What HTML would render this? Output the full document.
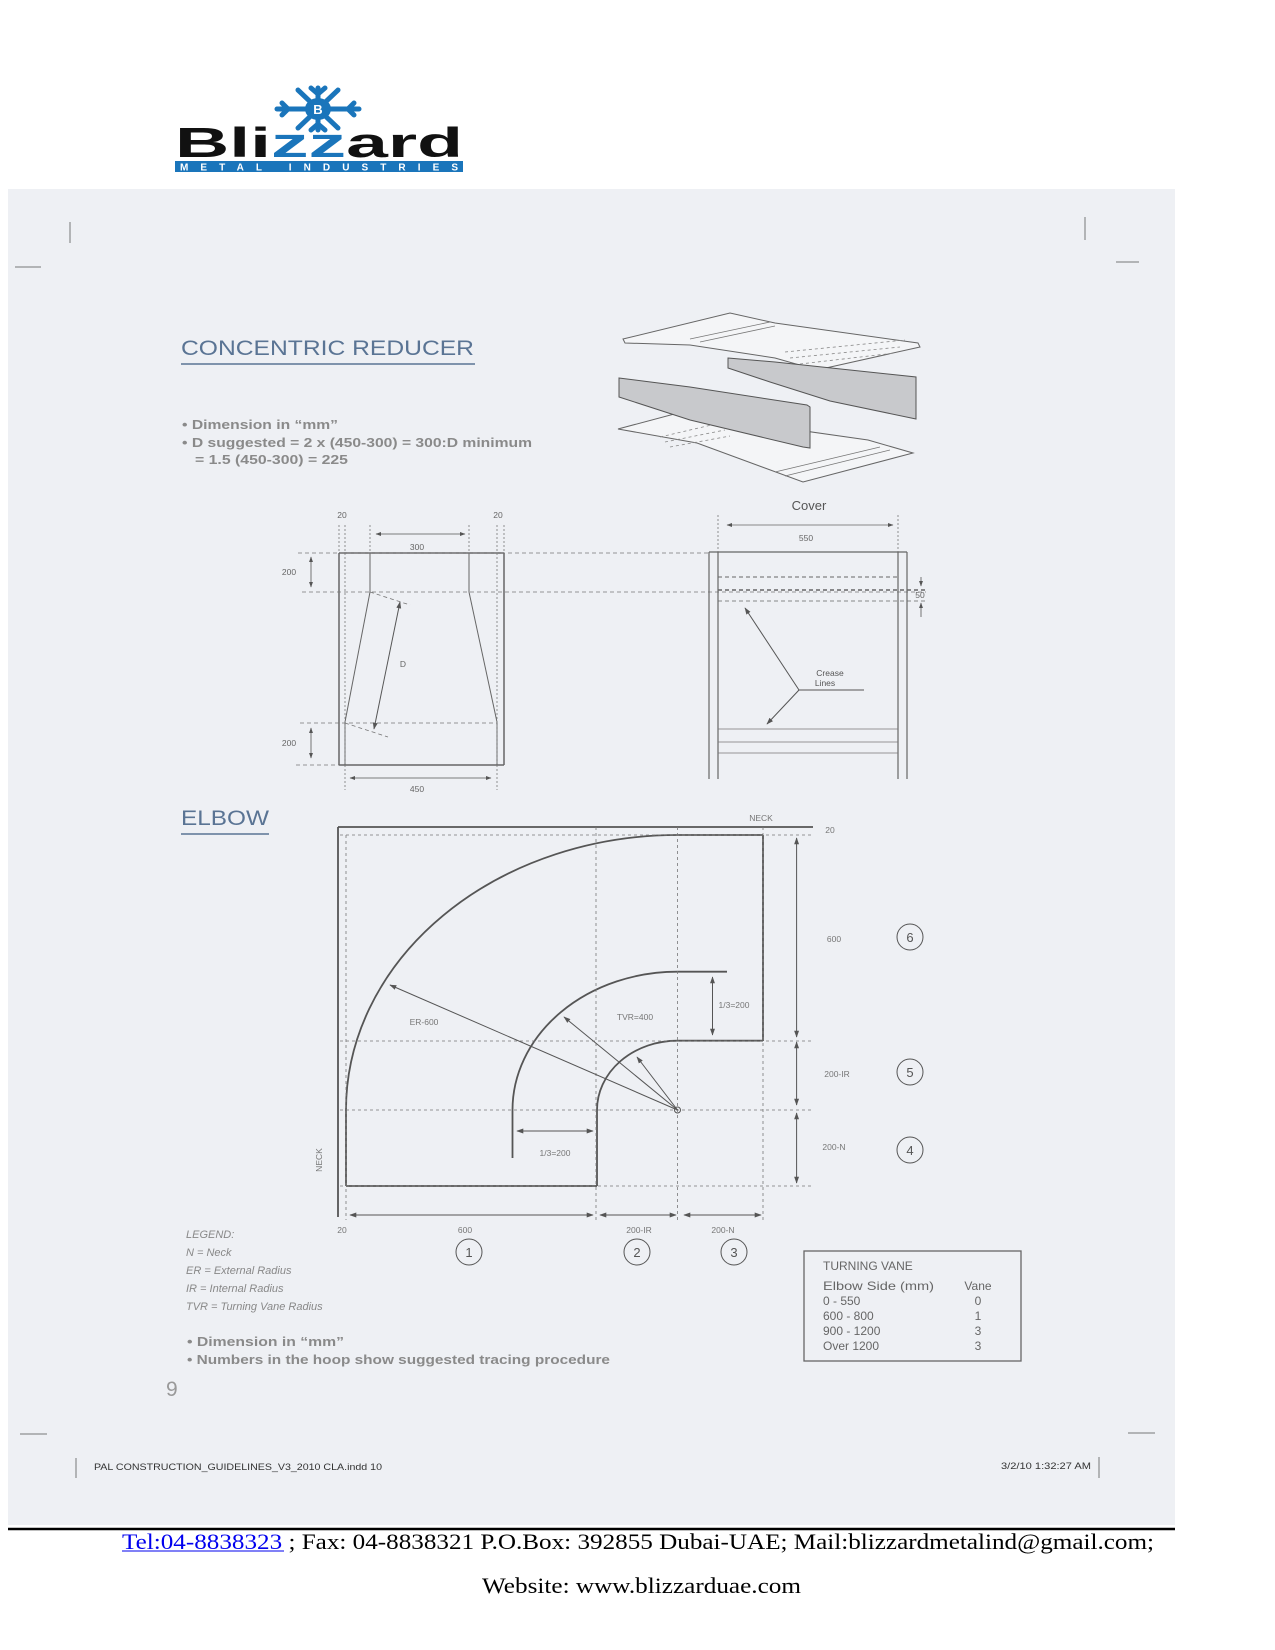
<!DOCTYPE html>
<html><head><meta charset="utf-8"><style>
html,body{margin:0;padding:0;background:#fff;}
svg{display:block;}
.s{font-family:"Liberation Sans",sans-serif;}
.f{font-family:"Liberation Serif",serif;}
</style></head><body>
<svg width="1275" height="1650" viewBox="0 0 1275 1650" xmlns="http://www.w3.org/2000/svg" class="s" font-family="Liberation Sans, sans-serif">
<defs>
<marker id="a" viewBox="0 0 10 10" refX="9" refY="5" markerWidth="7" markerHeight="7" orient="auto-start-reverse"><path d="M0,1.5 L10,5 L0,8.5 z" fill="#555"/></marker>
</defs>
<rect x="8" y="189" width="1167" height="1336" fill="#eef0f4"/>
<line x1="8" y1="1529" x2="1175" y2="1529" stroke="#000" stroke-width="2.5"/>

<!-- logo -->
<g stroke="#1a75bb" stroke-width="5" stroke-linecap="round" fill="none">
 <line x1="277" y1="109" x2="359" y2="109"/>
 <line x1="298" y1="90" x2="338" y2="128"/>
 <line x1="338" y1="90" x2="298" y2="128"/>
 <line x1="318" y1="88" x2="318" y2="130"/>
 <path d="M282,103 L288,109 L282,115 M354,103 L348,109 L354,115 M311,88 L318,94 L325,88 M311,130 L318,124 L325,130"/>
</g>
<ellipse cx="318" cy="109" rx="13" ry="11" fill="#1a75bb"/>
<text x="318" y="114" font-size="13" font-weight="bold" fill="#fff" text-anchor="middle">B</text>
<text x="175" y="157" font-size="42" font-weight="bold" fill="#111" textLength="288" lengthAdjust="spacingAndGlyphs">Bli<tspan fill="#1a75bb">zz</tspan>ard</text>
<rect x="175" y="161" width="288" height="11" fill="#1a75bb"/>
<text x="180" y="170.5" font-size="10" font-weight="bold" fill="#fff" textLength="278" lengthAdjust="spacing">METAL  INDUSTRIES</text>

<!-- crop marks -->
<g stroke="#777" stroke-width="1">
<line x1="70" y1="222" x2="70" y2="243"/><line x1="15" y1="267" x2="41" y2="267"/>
<line x1="1085" y1="217" x2="1085" y2="240"/><line x1="1116" y1="262" x2="1139" y2="262"/>
<line x1="20" y1="1434" x2="47" y2="1434"/><line x1="1128" y1="1433" x2="1155" y2="1433"/>
<line x1="76" y1="1458" x2="76" y2="1478"/><line x1="1099" y1="1457" x2="1099" y2="1478"/>
</g>

<text x="181" y="355" font-size="21" fill="#5a7494" textLength="293" lengthAdjust="spacingAndGlyphs">CONCENTRIC REDUCER</text>
<line x1="181" y1="364" x2="475" y2="364" stroke="#5a7494" stroke-width="1.5"/>
<g font-size="12.5" font-weight="bold" fill="#8a8a8a">
<text x="182" y="429" textLength="156" lengthAdjust="spacingAndGlyphs">• Dimension in “mm”</text>
<text x="182" y="447" textLength="350" lengthAdjust="spacingAndGlyphs">• D suggested = 2 x (450-300) = 300:D minimum</text>
<text x="195" y="464" textLength="153" lengthAdjust="spacingAndGlyphs">= 1.5 (450-300) = 225</text>
</g>

<!-- 3D sketch -->
<g stroke="#666" stroke-width="1" fill="#f4f5f7">
<path d="M623,339 L730,313 L775,323 L918,343 L920,347 L817,370 L775,358 L690,345 L625,343 Z"/>
<path d="M618,429 L678,413 L868,440 L913,453 L803,482 L697,443 Z"/>
</g>
<g stroke="#888" stroke-width="0.8" fill="none" stroke-dasharray="3,3">
<path d="M785,352 L905,340 M790,358 L900,347 M800,364 L895,353"/>
<path d="M660,437 L720,423 M665,442 L725,430 M670,447 L730,436"/>
</g>
<g stroke="#777" stroke-width="0.8" fill="none">
<path d="M690,339 L770,322 M700,342 L775,326"/>
<path d="M775,472 L880,447 M785,476 L890,450"/>
</g>
<g stroke="#555" stroke-width="1" fill="#c8c9cc">
<path d="M728,358 L775,362 L916,377 L916,419 L830,401 L770,382 L728,368 Z"/>
<path d="M619,378 L690,387 L807,405 L810,407 L810,448 L803,447 L690,420 L619,397 Z"/>
</g>

<!-- reducer drawing -->
<g stroke="#666" stroke-width="1" fill="none">
<line x1="339" y1="553" x2="504" y2="553" stroke-width="1.5"/>
<line x1="339" y1="553" x2="339" y2="765" stroke-width="1.5"/>
<line x1="504" y1="553" x2="504" y2="765" stroke-width="1.5"/>
<line x1="339" y1="765" x2="504" y2="765" stroke-width="1.5"/>
<line x1="345" y1="722" x2="345" y2="765"/>
<line x1="497" y1="722" x2="497" y2="765"/>
<line x1="370" y1="553" x2="370" y2="592"/>
<line x1="469" y1="553" x2="469" y2="592"/>
<line x1="370" y1="592" x2="345" y2="722"/>
<line x1="469" y1="592" x2="497" y2="722"/>
</g>
<g stroke="#777" stroke-width="0.8" fill="none" stroke-dasharray="4,3">
<line x1="298" y1="553" x2="710" y2="553"/>
<line x1="302" y1="592" x2="926" y2="592"/>
<line x1="300" y1="723" x2="497" y2="723"/>
<line x1="296" y1="765" x2="339" y2="765"/>
<line x1="370" y1="592" x2="410" y2="605"/>
<line x1="345" y1="723" x2="388" y2="737"/>
</g>
<g stroke="#777" stroke-width="0.8" fill="none" stroke-dasharray="2,2">
<line x1="339" y1="525" x2="339" y2="553"/><line x1="345" y1="525" x2="345" y2="790"/>
<line x1="497" y1="525" x2="497" y2="790"/><line x1="504" y1="525" x2="504" y2="553"/>
<line x1="370" y1="525" x2="370" y2="553"/><line x1="469" y1="525" x2="469" y2="553"/>
</g>
<g stroke="#555" stroke-width="0.8" fill="none" marker-start="url(#a)" marker-end="url(#a)">
<line x1="376" y1="534" x2="465" y2="534"/>
<line x1="311" y1="557" x2="311" y2="587"/>
<line x1="311" y1="728" x2="311" y2="758"/>
<line x1="350" y1="778" x2="491" y2="778"/>
</g>
<line x1="374" y1="729" x2="400" y2="602" stroke="#555" stroke-width="1" marker-start="url(#a)" marker-end="url(#a)"/>
<g font-size="8.5" fill="#666" text-anchor="middle">
<text x="342" y="518">20</text><text x="498" y="518">20</text>
<text x="417" y="550">300</text>
<text x="289" y="575">200</text><text x="289" y="746">200</text>
<text x="403" y="667">D</text>
<text x="417" y="792">450</text>
</g>

<!-- cover -->
<text x="809" y="510" font-size="13" fill="#555" text-anchor="middle">Cover</text>
<g stroke="#666" stroke-width="1.2" fill="none">
<line x1="709" y1="552" x2="709" y2="779"/><line x1="718" y1="552" x2="718" y2="779"/>
<line x1="898" y1="552" x2="898" y2="779"/><line x1="907" y1="552" x2="907" y2="779"/>
<line x1="709" y1="552" x2="907" y2="552"/>
</g>
<g stroke="#777" stroke-width="0.8">
<line x1="718" y1="729" x2="898" y2="729"/><line x1="718" y1="742" x2="898" y2="742"/><line x1="718" y1="753" x2="898" y2="753"/>
</g>
<g stroke="#666" stroke-width="1" stroke-dasharray="4,3">
<line x1="718" y1="577" x2="898" y2="577"/>
<line x1="718" y1="590" x2="926" y2="590" stroke-width="1.4"/>
<line x1="718" y1="601" x2="926" y2="601" stroke-width="0.8"/>
</g>
<g stroke="#777" stroke-width="0.8" stroke-dasharray="2,2">
<line x1="718" y1="515" x2="718" y2="552"/><line x1="898" y1="515" x2="898" y2="552"/>
</g>
<line x1="727" y1="525" x2="893" y2="525" stroke="#666" stroke-width="0.8" marker-start="url(#a)" marker-end="url(#a)"/>
<text x="806" y="541" font-size="8.5" fill="#666" text-anchor="middle">550</text>
<line x1="921" y1="577" x2="921" y2="586" stroke="#555" stroke-width="0.8" marker-end="url(#a)"/>
<line x1="921" y1="617" x2="921" y2="603" stroke="#555" stroke-width="0.8" marker-end="url(#a)"/>
<text x="920" y="598" font-size="8.5" fill="#666" text-anchor="middle">50</text>
<g stroke="#555" stroke-width="1" fill="none">
<line x1="799" y1="690" x2="745" y2="608" marker-end="url(#a)"/>
<line x1="799" y1="690" x2="767" y2="724" marker-end="url(#a)"/>
<line x1="799" y1="690" x2="864" y2="690"/>
</g>
<text x="830" y="676" font-size="8.5" fill="#555" text-anchor="middle">Crease</text>
<text x="825" y="686" font-size="8.5" fill="#555" text-anchor="middle">Lines</text>

<!-- ELBOW -->
<text x="181" y="825" font-size="21" fill="#5a7494" textLength="88" lengthAdjust="spacingAndGlyphs">ELBOW</text>
<line x1="181" y1="834" x2="269" y2="834" stroke="#5a7494" stroke-width="1.5"/>

<g stroke="#555" stroke-width="1.8" fill="none">
<line x1="338" y1="827" x2="813" y2="827"/>
<line x1="338" y1="827" x2="338" y2="1217"/>
<line x1="346" y1="1186" x2="597" y2="1186"/>
<line x1="677" y1="835" x2="763" y2="835"/>
<line x1="763" y1="835" x2="763" y2="1041"/>
<path d="M346,1186 L346,1110 A331.5,275 0 0 1 677.5,835"/>
<path d="M512.5,1158 L512.5,1110 A165,138.3 0 0 1 677.5,971.7 L727,971.7"/>
<path d="M597,1186 L597,1110 A80.5,69.3 0 0 1 677.5,1040.7 L763,1040.7"/>
</g>
<g stroke="#777" stroke-width="0.8" fill="none" stroke-dasharray="3,3">
<line x1="340" y1="835" x2="813" y2="835"/>
<line x1="340" y1="1041" x2="813" y2="1041"/>
<line x1="340" y1="1110" x2="813" y2="1110"/>
<line x1="340" y1="1186" x2="813" y2="1186"/>
<line x1="346" y1="835" x2="346" y2="1220"/>
<line x1="596" y1="827" x2="596" y2="1220"/>
<line x1="677.5" y1="827" x2="677.5" y2="1220"/>
<line x1="763" y1="827" x2="763" y2="1220"/>
</g>
<circle cx="677.5" cy="1110" r="3" fill="none" stroke="#555"/>
<g stroke="#555" stroke-width="1" fill="none" marker-end="url(#a)">
<line x1="677.5" y1="1110" x2="390" y2="985"/>
<line x1="677.5" y1="1110" x2="564" y2="1017"/>
<line x1="677.5" y1="1110" x2="637" y2="1057"/>
</g>
<g stroke="#555" stroke-width="1" fill="none" marker-start="url(#a)" marker-end="url(#a)">
<line x1="712.5" y1="977" x2="712.5" y2="1035"/>
<line x1="517" y1="1131" x2="593" y2="1131"/>
<line x1="796.6" y1="838" x2="796.6" y2="1037"/>
<line x1="796.6" y1="1042" x2="796.6" y2="1105"/>
<line x1="796.6" y1="1113" x2="796.6" y2="1183"/>
<line x1="350" y1="1215" x2="593" y2="1215"/>
<line x1="600" y1="1215" x2="676" y2="1215"/>
<line x1="684" y1="1215" x2="761" y2="1215"/>
</g>
<g font-size="8.5" fill="#777" text-anchor="middle">
<text x="761" y="821">NECK</text>
<text x="830" y="833">20</text>
<text x="834" y="942">600</text>
<text x="837" y="1077">200-IR</text>
<text x="834" y="1150">200-N</text>
<text x="734" y="1008">1/3=200</text>
<text x="635" y="1020">TVR=400</text>
<text x="424" y="1025">ER-600</text>
<text x="555" y="1156">1/3=200</text>
<text x="342" y="1233">20</text>
<text x="465" y="1233">600</text>
<text x="639" y="1233">200-IR</text>
<text x="723" y="1233">200-N</text>
<text transform="translate(322,1160) rotate(-90)">NECK</text>
</g>
<g stroke="#555" stroke-width="1" fill="none">
<circle cx="910" cy="937" r="13"/><circle cx="910" cy="1072" r="13"/><circle cx="910" cy="1150" r="13"/>
<circle cx="469" cy="1252" r="13"/><circle cx="637" cy="1252" r="13"/><circle cx="734" cy="1252" r="13"/>
</g>
<g font-size="13" fill="#555" text-anchor="middle">
<text x="910" y="942">6</text><text x="910" y="1077">5</text><text x="910" y="1155">4</text>
<text x="469" y="1257">1</text><text x="637" y="1257">2</text><text x="734" y="1257">3</text>
</g>

<!-- legend -->
<g font-size="11" font-style="italic" fill="#888">
<text x="186" y="1238">LEGEND:</text>
<text x="186" y="1256">N = Neck</text>
<text x="186" y="1274">ER = External Radius</text>
<text x="186" y="1292">IR = Internal Radius</text>
<text x="186" y="1310">TVR = Turning Vane Radius</text>
</g>
<g font-size="12.5" font-weight="bold" fill="#8a8a8a">
<text x="187" y="1346" textLength="157" lengthAdjust="spacingAndGlyphs">• Dimension in “mm”</text>
<text x="187" y="1364" textLength="423" lengthAdjust="spacingAndGlyphs">• Numbers in the hoop show suggested tracing procedure</text>
</g>
<text x="166" y="1396" font-size="21" fill="#999">9</text>

<!-- turning vane table -->
<rect x="804" y="1251" width="217" height="110" fill="none" stroke="#666" stroke-width="1.3"/>
<g font-size="12" fill="#666">
<text x="823" y="1270">TURNING VANE</text>
<text x="823" y="1290" textLength="111" lengthAdjust="spacingAndGlyphs">Elbow Side (mm)</text>
<text x="823" y="1305">0 - 550</text>
<text x="823" y="1320">600 - 800</text>
<text x="823" y="1335">900 - 1200</text>
<text x="823" y="1350">Over 1200</text>
<g text-anchor="middle"><text x="978" y="1290">Vane</text><text x="978" y="1305">0</text><text x="978" y="1320">1</text><text x="978" y="1335">3</text><text x="978" y="1350">3</text></g>
</g>

<text x="94" y="1470" font-size="9.5" fill="#333" textLength="288" lengthAdjust="spacingAndGlyphs">PAL CONSTRUCTION_GUIDELINES_V3_2010  CLA.indd   10</text>
<text x="1001" y="1469" font-size="9.5" fill="#333" textLength="90" lengthAdjust="spacingAndGlyphs">3/2/10   1:32:27 AM</text>

<!-- footer -->
<g class="f" font-family="Liberation Serif, serif" font-size="22" fill="#000">
<text class="f" x="122" y="1549" textLength="1032" lengthAdjust="spacingAndGlyphs"><tspan fill="#0000ee">Tel:04-8838323</tspan> ; Fax: 04-8838321 P.O.Box: 392855 Dubai-UAE; Mail:blizzardmetalind@gmail.com;</text>
<text class="f" x="482" y="1593" textLength="319" lengthAdjust="spacingAndGlyphs">Website: www.blizzarduae.com</text>
</g>
<line x1="122" y1="1551" x2="284" y2="1551" stroke="#0000ee" stroke-width="1"/>
</svg>
</body></html>
